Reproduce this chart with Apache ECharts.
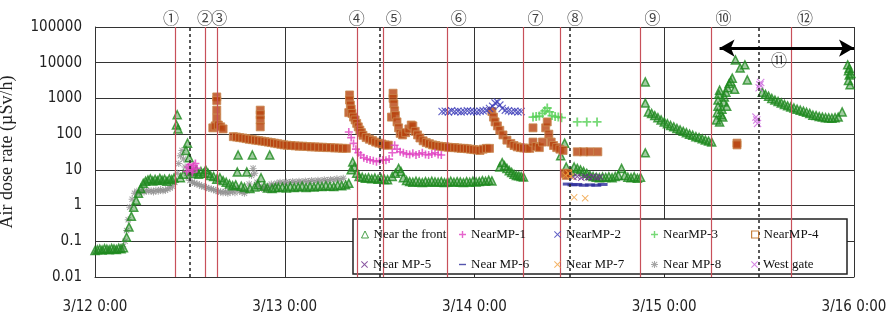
<!DOCTYPE html>
<html>
<head>
<meta charset="utf-8">
<script src="https://cdn.jsdelivr.net/npm/echarts@6/dist/echarts.min.js"></script>
<style>
  html, body { margin: 0; background: #fff; }
  #chart { width: 895px; height: 320px; }
</style>
</head>
<body>
<div id="chart"></div>
<script>
// hours since 3/12 0:00
const dayLabels = ['3/12 0:00', '3/13 0:00', '3/14 0:00', '3/15 0:00', '3/16 0:00']
const yTickLabels = ['0.01', '0.1', '1', '10', '100', '1000', '10000', '100000']

// event markers (red lines) and half-day dashed lines
const eventHours = [10.1, 14.0, 15.5, 33.2, 36.4, 44.6, 54.2, 58.9, 69.0, 78.0, 88.0]
const noonHours = [12, 36, 60, 84]
const eventLabels = ['①', '②', '③', '④', '⑤', '⑥', '⑦', '⑧', '⑨', '⑩', '⑫']
const eventLabelHours = [9.6, 13.9, 15.7, 33.1, 37.8, 46.0, 55.7, 60.7, 70.5, 79.5, 89.8]
const labelTopValue = 178000
const label11 = [86.5, 12000]
const arrowSpan = [79.0, 96.0]
const arrowValue = 25700

const nearFront = [
  [0, 0.055], [0.3, 0.058], [0.6, 0.06], [0.9, 0.057], [1.2, 0.062], [1.5, 0.06], [1.8, 0.058],
  [2.1, 0.063], [2.4, 0.061], [2.7, 0.059], [3.0, 0.064], [3.3, 0.062], [3.6, 0.066],
  [4.0, 0.13], [4.3, 0.25], [4.6, 0.5], [4.9, 0.9], [5.2, 1.4], [5.5, 2.2], [5.8, 3.0], [6.1, 4.2], [6.4, 4.8],
  [6.7, 5.2], [7.0, 5.6], [7.3, 4.9], [7.6, 5.4], [7.9, 5.0], [8.2, 5.8], [8.5, 5.1], [8.8, 5.5],
  [9.1, 4.8], [9.4, 5.6], [9.7, 5.3], [10.0, 5.9],
  [10.3, 180], [10.4, 350], [10.5, 140],
  [10.8, 6], [11.2, 7.5], [11.5, 35], [11.7, 56], [11.9, 22], [12.2, 9], [12.5, 8], [12.8, 10],
  [13.1, 7.5], [13.4, 9], [13.7, 8], [14.0, 10], [14.3, 8], [14.6, 7], [15.0, 6.5], [15.4, 5.5],
  [15.8, 6], [16.2, 5], [16.6, 4.5], [17.0, 4], [17.4, 3.6], [17.8, 3.8], [18.0, 8.7], [18.1, 26],
  [18.5, 3.5], [18.9, 3.2], [19.2, 8.7], [19.9, 26], [19.6, 3.0], [20.2, 3.3], [20.6, 3.8], [21.0, 6],
  [21.4, 3.5], [22.1, 26], [21.8, 3.1], [22.4, 3.0], [22.8, 3.2],
  [23.2, 3.2], [23.7, 3.3], [24.2, 3.1], [24.7, 3.4], [25.2, 3.2], [25.7, 3.3], [26.2, 3.5], [26.7, 3.2],
  [27.2, 3.4], [27.7, 3.3], [28.2, 3.5], [28.7, 3.4], [29.2, 3.6], [29.7, 3.5], [30.2, 3.4], [30.7, 3.7],
  [31.2, 3.6], [31.7, 3.8], [32.1, 4.2],
  [32.4, 10], [32.6, 16.6], [32.8, 12], [33.1, 8], [33.4, 6.5],
  [33.8, 6.2], [34.2, 5.8], [34.6, 6.0], [35.0, 5.6], [35.4, 5.9], [35.8, 5.5], [36.2, 5.7], [36.6, 5.4], [37.0, 5.3],
  [37.6, 6.5], [38.0, 8], [38.4, 11], [38.7, 9], [39.0, 6],
  [39.4, 5.0], [39.8, 4.7], [40.2, 4.5], [40.6, 4.8], [41.0, 4.6], [41.4, 4.4], [41.8, 4.7], [42.2, 4.5],
  [42.6, 4.8], [43.0, 4.6], [43.4, 4.5], [43.8, 4.7], [44.2, 4.4], [44.6, 4.6], [45.0, 4.8], [45.4, 4.5],
  [45.8, 4.7], [46.2, 4.6], [46.6, 4.4], [47.0, 4.7], [47.4, 4.5], [47.8, 4.8], [48.2, 4.6], [48.6, 4.7],
  [49.0, 5.0], [49.4, 4.8], [49.8, 5.1], [50.2, 4.9],
  [51.2, 12], [51.5, 16], [51.8, 13], [52.1, 11], [52.4, 9.5], [52.7, 8.5], [53.0, 7.5], [53.3, 7],
  [53.6, 6.8], [53.9, 6.5], [54.2, 6.3],
  [58.9, 25], [59.4, 56], [59.6, 12],
  [60.2, 9], [60.6, 12], [61.0, 11], [61.4, 10], [61.8, 9], [62.2, 8], [62.6, 7], [63.0, 6.5], [63.4, 6.2],
  [63.8, 6], [64.2, 6.3], [64.6, 6.1], [65.0, 6.4], [65.4, 6], [65.8, 6.5], [66.2, 7], [66.6, 11], [67.0, 7],
  [67.4, 6.2], [67.8, 6], [68.2, 6.4], [68.6, 5.8], [69.0, 6.2],
  [69.6, 2900], [69.6, 740], [69.6, 30],
  [70.0, 420], [70.4, 380], [70.8, 330], [71.2, 290], [71.6, 250], [72.0, 220], [72.4, 195], [72.8, 175],
  [73.2, 160], [73.6, 145], [74.0, 132], [74.4, 120], [74.8, 110], [75.2, 100], [75.6, 93], [76.0, 85],
  [76.4, 80], [76.8, 74], [77.2, 68], [77.6, 64], [78.0, 60],
  [78.6, 250], [78.7, 400], [78.8, 600], [78.8, 900], [78.9, 1300], [79.0, 1700], [79.0, 220], [79.2, 350],
  [79.3, 500], [79.5, 800], [79.6, 1100], [79.8, 1500], [80.0, 2000], [80.2, 2600], [80.4, 3000], [80.6, 3700],
  [80.9, 1800], [79.9, 600], [79.4, 300], [81.0, 12000], [81.6, 7100], [82.2, 8700], [82.5, 3300],
  [84.4, 1500], [84.8, 1300], [85.2, 1150], [85.6, 1000], [86.0, 900], [86.4, 820], [86.8, 750], [87.2, 680],
  [87.6, 620], [88.0, 580], [88.4, 540], [88.8, 500], [89.2, 470], [89.6, 440], [90.0, 410], [90.4, 380],
  [90.8, 340], [91.2, 330], [91.6, 310], [92.0, 300], [92.4, 290], [92.8, 285], [93.2, 280], [93.6, 290],
  [94.0, 300], [94.5, 420],
  [95.2, 8700], [95.3, 6000], [95.4, 4500], [95.3, 3200], [95.5, 2400], [95.4, 7000], [95.6, 5000]
]

const nearMP1 = [
  [11.6, 9], [11.8, 12], [12.0, 14], [12.2, 11], [12.4, 10], [12.5, 13], [12.7, 15], [12.9, 11], [12.3, 8.5],
  [32.1, 115], [32.4, 80], [32.7, 55], [33.0, 38], [33.3, 30], [33.6, 26], [34.0, 22], [34.4, 20], [34.8, 19],
  [35.2, 18], [35.6, 17], [36.0, 18], [36.4, 19], [36.8, 18.6], [37.2, 20], [37.6, 30], [37.9, 49], [38.2, 38],
  [38.6, 32], [39.0, 30], [39.4, 28], [39.8, 27], [40.2, 29], [40.6, 26], [41.0, 28], [41.4, 30], [41.8, 27],
  [42.2, 26], [42.6, 28], [43.0, 30], [43.4, 27], [43.8, 26]
]

const nearMP2 = [
  [43.9, 430], [44.3, 440], [44.7, 420], [45.1, 450], [45.5, 430], [45.9, 440], [46.3, 420], [46.7, 430],
  [47.1, 450], [47.5, 440], [47.9, 430], [48.3, 420], [48.7, 440], [49.1, 450], [49.5, 470], [49.9, 520],
  [50.3, 600], [50.6, 750], [50.9, 800], [51.2, 650], [51.5, 520], [51.9, 470], [52.3, 450], [52.7, 430],
  [53.1, 440], [53.5, 420], [53.9, 430]
]

const nearMP3 = [
  [55.4, 300], [55.8, 310], [56.2, 320], [56.6, 380], [56.9, 450], [57.2, 540], [57.5, 420], [57.8, 330],
  [58.2, 310], [58.6, 300], [59.0, 290], [61.0, 220], [62.2, 220], [63.5, 220]
]

const nearMP4 = [
  [14.9, 150], [15.2, 170], [15.4, 1100], [15.4, 870], [15.4, 470], [15.4, 280], [15.6, 180], [15.9, 160], [16.2, 140],
  [17.5, 85], [17.9, 83], [18.3, 80], [18.7, 78], [19.1, 75], [19.5, 72], [19.9, 70], [20.3, 68],
  [20.9, 470], [20.9, 350], [20.9, 250], [20.9, 160], [20.7, 66], [21.1, 64], [21.5, 62], [21.9, 60],
  [22.3, 58], [22.7, 56], [23.1, 54], [23.5, 52], [23.9, 50], [24.3, 49], [24.8, 48], [25.3, 47], [25.8, 46],
  [26.3, 46], [26.8, 45], [27.3, 44], [27.8, 44], [28.3, 43], [28.8, 43], [29.3, 42], [29.8, 42], [30.3, 41],
  [30.8, 41], [31.3, 40], [31.8, 40],
  [32.1, 400], [32.2, 1250], [32.2, 900], [32.3, 650], [32.4, 500], [32.5, 380], [32.7, 300], [32.9, 250],
  [33.1, 200], [33.3, 160], [33.5, 130], [33.7, 110], [33.9, 93], [34.3, 80], [34.7, 72], [35.1, 66],
  [35.5, 60], [35.9, 56], [36.3, 53], [36.7, 50], [37.1, 49],
  [37.5, 300], [37.7, 1400], [37.7, 1000], [37.8, 700], [37.9, 450], [38.0, 330], [38.2, 220], [38.4, 150],
  [38.6, 105], [38.9, 95], [39.3, 110], [39.7, 140], [40.0, 180], [40.2, 170], [40.5, 120], [40.8, 95],
  [41.1, 78], [41.5, 65], [41.9, 58], [42.3, 54], [42.7, 50], [43.1, 48], [43.5, 46], [43.9, 45], [44.3, 44],
  [44.7, 43], [45.1, 42], [45.5, 42], [45.9, 41], [46.3, 40], [46.7, 40], [47.1, 39], [47.5, 38], [47.9, 37],
  [48.3, 36], [48.7, 35], [49.1, 38], [49.5, 40], [49.9, 40],
  [50.2, 430], [50.4, 300], [50.6, 220], [50.9, 170], [51.2, 128], [51.6, 95], [52.1, 68], [52.6, 55],
  [53.0, 48], [53.4, 44], [53.8, 42], [54.2, 41], [54.6, 40], [55.0, 40], [55.4, 150], [55.4, 60], [55.8, 45],
  [56.2, 42], [56.6, 60], [57.0, 150], [57.2, 220], [57.4, 100], [57.7, 60], [58.0, 48], [58.4, 42],
  [58.8, 38], [59.2, 35], [59.4, 8], [59.6, 7], [59.8, 8],
  [61.0, 32], [61.8, 32], [62.6, 32], [63.6, 32],
  [81.2, 56], [81.2, 50]
]

const nearMP5 = [[60.5, 6.3], [61.0, 6.5], [61.5, 6.0], [62.0, 6.4], [62.5, 6.2], [63.0, 6.5], [63.5, 6.1], [63.9, 6.3]]
const nearMP6 = [[59.8, 4], [60.4, 3.8], [61.0, 3.9], [61.8, 3.7], [62.6, 3.8], [63.4, 3.7], [64.2, 3.9]]
const nearMP7 = [[59.5, 7], [59.9, 8], [60.2, 6.5], [60.6, 1.7], [62.0, 1.6]]

const nearMP8 = [
  [3.5, 0.07], [3.8, 0.1], [4.0, 0.2], [4.2, 0.4], [4.4, 0.9], [4.7, 1.5], [5.0, 2.2], [5.3, 2.5], [5.6, 2.3],
  [5.9, 2.6], [6.2, 2.4], [6.5, 2.7], [6.8, 2.5], [7.1, 2.6], [7.4, 2.4], [7.7, 2.7], [8.0, 2.5], [8.3, 2.8],
  [8.6, 2.6], [8.9, 2.7], [9.2, 2.9], [9.5, 3.1], [9.8, 3.5], [10.1, 4.5], [10.4, 8], [10.6, 15], [10.8, 25],
  [11.0, 35], [11.2, 20], [11.4, 12], [11.6, 8], [11.8, 6], [12.0, 5], [12.3, 4.5], [12.6, 4.2], [12.9, 4],
  [13.2, 3.8], [13.5, 3.5], [13.8, 3.4], [14.1, 3.2], [14.4, 3], [14.7, 2.9], [15.0, 2.8], [15.3, 2.6],
  [15.6, 2.5], [15.9, 2.4], [16.2, 2.3], [16.5, 2.5], [16.8, 2.2], [17.1, 2.4], [17.4, 2.6], [17.7, 2.3],
  [18.0, 3], [18.3, 2.5], [18.6, 2.4], [18.9, 2.2], [19.2, 2.6], [19.5, 4], [19.8, 7], [20.0, 11], [20.2, 8],
  [20.5, 4.5], [20.8, 3.5], [21.1, 3], [21.4, 3.2], [21.7, 2.8], [22.0, 3.5], [22.3, 4], [22.6, 3.6],
  [23.0, 4.2], [23.4, 4.5], [23.8, 4.3], [24.2, 4.6], [24.6, 4.4], [25.0, 4.7], [25.4, 4.5], [25.8, 4.8],
  [26.2, 4.6], [26.6, 4.9], [27.0, 4.7], [27.4, 5], [27.8, 4.8], [28.2, 5.1], [28.6, 4.9], [29.0, 5.3],
  [29.4, 5], [29.8, 5.4], [30.2, 5.2], [30.6, 5.6], [31.0, 5.3], [31.4, 5.8]
]

const westGate = [[84.1, 2400], [84.0, 2000], [84.2, 2800], [83.7, 250], [83.8, 200], [83.6, 300]]

// legend layout: two rows of five
const legendNames = [
  'Near the front', 'NearMP-1', 'NearMP-2', 'NearMP-3', 'NearMP-4',
  'Near MP-5', 'Near MP-6', 'Near MP-7', 'Near MP-8', 'West gate'
]

const PLUS = 'path://M4,0H6V4H10V6H6V10H4V6H0V4H4Z'
const CROSS = 'path://M1,0L5,4L9,0L10,1L6,5L10,9L9,10L5,6L1,10L0,9L4,5L0,1Z'
const STAR = 'path://M4.3,0H5.7V3.3L8.3,0.7L9.3,1.7L6.7,4.3H10V5.7H6.7L9.3,8.3L8.3,9.3L5.7,6.7V10H4.3V6.7L1.7,9.3L0.7,8.3L3.3,5.7H0V4.3H3.3L0.7,1.7L1.7,0.7L4.3,3.3Z'
const DASH = 'path://M0,4H10V6H0Z'

function scatter(name, data, symbol, size, itemStyle, z) {
  return { name, type: 'scatter', data, symbol, symbolSize: size, itemStyle, z: z || 2, silent: true }
}

const chart = echarts.init(document.getElementById('chart'))

const axisFont = "'DejaVu Sans Condensed', 'Liberation Sans Narrow', sans-serif"
const serif = "'Liberation Serif', 'DejaVu Serif', serif"

const legendCols = [361, 459, 554, 651, 751]
const legendRows = [228, 258]
const legendIconStyle = {
  'Near the front': { color: '#fff', borderColor: '#1e8a1e', borderWidth: 1 },
  'NearMP-4': { color: '#fff', borderColor: '#b8620e', borderWidth: 1.2 },
}

const legends = legendNames.map((name, i) => {
  const lg = {
    data: [name === 'Near MP-6' ? { name, icon: DASH } : name],
    left: legendCols[i % 5],
    top: legendRows[Math.floor(i / 5)],
    padding: 0,
    itemWidth: 7,
    itemHeight: 7,
    itemGap: 0,
    textStyle: { fontFamily: serif, fontSize: 13, color: '#111' },
    selectedMode: false,
    z: 6,
  }
  if (legendIconStyle[name]) lg.itemStyle = legendIconStyle[name]
  return lg
})

const option = {
  animation: false,
  backgroundColor: '#fff',
  grid: { left: 95, right: 41, top: 27, bottom: 43, outerBoundsMode: 'none', containLabel: false },
  legend: legends,
  graphic: [{
    type: 'rect',
    shape: { x: 353, y: 219, width: 494, height: 55 },
    style: { fill: '#fff', stroke: '#222', lineWidth: 1.5 },
    z: 5,
  }],
  xAxis: {
    type: 'value',
    min: 0,
    max: 96,
    interval: 24,
    axisLine: { show: true, lineStyle: { color: '#333' } },
    axisTick: { show: false },
    splitLine: { show: true, lineStyle: { color: '#333', width: 1 } },
    axisLabel: {
      margin: 23,
      fontFamily: axisFont,
      fontSize: 15,
      color: '#222',
      formatter: v => dayLabels[Math.round(v / 24)],
    },
  },
  yAxis: {
    type: 'log',
    logBase: 10,
    min: 0.01,
    max: 100000,
    name: 'Air dose rate (µSv/h)',
    nameLocation: 'middle',
    nameGap: 79,
    nameTextStyle: { fontFamily: serif, fontSize: 18, color: '#222' },
    axisLine: { show: true, lineStyle: { color: '#333' } },
    axisTick: { show: false },
    splitLine: { show: true, lineStyle: { color: '#333', width: 1 } },
    axisLabel: {
      margin: 13,
      fontFamily: axisFont,
      fontSize: 15,
      color: '#222',
      formatter: v => yTickLabels[Math.round(Math.log10(v)) + 2],
    },
  },
  series: [
    {
      name: 'markers',
      type: 'scatter',
      data: [],
      silent: true,
      z: 1,
      markLine: {
        silent: true,
        symbol: 'none',
        label: { show: false },
        animation: false,
        data: eventHours.map(h => ({ xAxis: h, lineStyle: { color: '#c8505a', width: 1.2, type: 'solid' } }))
          .concat(noonHours.map(h => ({ xAxis: h, lineStyle: { color: '#222', width: 1.5, type: [3, 3] } }))),
      },
    },
    scatter('Near MP-8', nearMP8, STAR, 7, { color: '#8e8e8e' }),
    scatter('Near the front', nearFront, 'triangle', 8, { color: 'rgba(40,140,40,0.55)', borderColor: '#1e8a1e', borderWidth: 1.5 }),
    scatter('NearMP-4', nearMP4, 'rect', 8, { color: '#b8420e', borderColor: '#c98a50', borderWidth: 1 }),
    scatter('NearMP-1', nearMP1, PLUS, 8, { color: '#e040c0' }),
    scatter('NearMP-2', nearMP2, CROSS, 8, { color: '#3a3ab8' }),
    scatter('NearMP-3', nearMP3, PLUS, 9, { color: '#55d055' }),
    scatter('Near MP-5', nearMP5, CROSS, 7, { color: '#6a2a8a' }),
    scatter('Near MP-6', nearMP6, 'rect', [10, 3], { color: '#2a2a9a' }),
    scatter('Near MP-7', nearMP7, CROSS, 7, { color: '#f0a040' }),
    scatter('West gate', westGate, CROSS, 8, { color: '#cc66dd' }),
    {
      name: 'labels',
      type: 'scatter',
      clip: false,
      silent: true,
      symbolSize: 14,
      itemStyle: { color: 'rgba(0,0,0,0)' },
      label: {
        show: true,
        position: 'inside',
        fontFamily: "'Noto Sans CJK JP', sans-serif",
        fontSize: 16,
        color: '#111',
        formatter: p => p.data[2],
      },
      data: eventLabelHours.map((h, i) => [h, labelTopValue, eventLabels[i]])
        .concat([[label11[0], label11[1], '⑪']]),
      markLine: {
        silent: true,
        symbol: ['arrow', 'arrow'],
        symbolSize: [13, 15],
        label: { show: false },
        lineStyle: { color: '#000', width: 3, type: 'solid' },
        data: [[{ coord: [arrowSpan[0], arrowValue] }, { coord: [arrowSpan[1], arrowValue] }]],
      },
      z: 4,
    },
  ],
}

chart.setOption(option)
</script>
</body>
</html>
